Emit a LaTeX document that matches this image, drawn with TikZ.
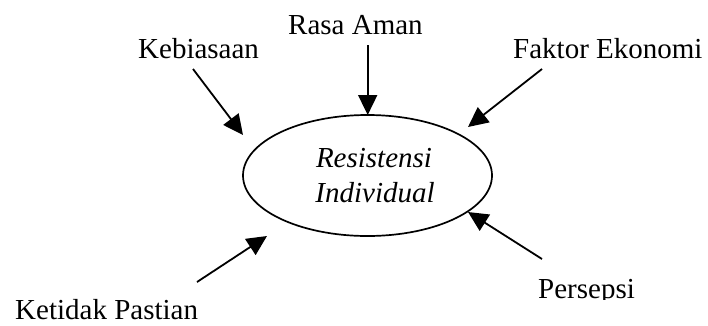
\documentclass[tikz,border=0pt]{standalone}
\usepackage{fontspec}
\setmainfont{Liberation Serif}
\usetikzlibrary{arrows.meta,shapes.geometric}
\begin{document}
\begin{tikzpicture}[x=1pt,y=-1pt,
  lbl/.style={inner sep=0pt,anchor=base west,font=\fontsize{29}{34}\selectfont},
  arr/.style={line width=1.8pt,-{Triangle[length=20pt,width=19pt]}}]
\useasboundingbox (0,0) rectangle (708,325);
\node[draw,line width=1.7pt,ellipse,minimum width=249pt,minimum height=121pt,inner sep=0pt] (e) at (367.5,175.5) {};
\node[inner sep=0pt,anchor=base,font=\fontsize{29}{34}\selectfont\itshape] (t1) at (374,167) {Resistensi};
\node[inner sep=0pt,anchor=base,font=\fontsize{29}{34}\selectfont\itshape] (t2) at (375,202) {Individual};
\node[lbl] (ra) at (288,34) {Rasa Aman};
\node[lbl] (kb) at (138,58) {Kebiasaan};
\node[lbl] (fe) at (513,58) {Faktor Ekonomi};
\node[lbl] (kp) at (15,319) {Ketidak Pastian};
\begin{scope}
\clip (500,0) rectangle (708,299);
\node[lbl] (ps) at (538,298) {Persepsi};
\end{scope}
\coordinate (ra1) at (367.7,45);  \coordinate (ra2) at (367.7,115);
\coordinate (kb1) at (193,69);    \coordinate (kb2) at (243,135);
\coordinate (fe1) at (542,69);    \coordinate (fe2) at (468,127);
\coordinate (kp1) at (197,282);   \coordinate (kp2) at (267,236);
\coordinate (ps1) at (542,259);   \coordinate (ps2) at (468,212);
\draw[arr] (ra1) -- (ra2);
\draw[arr] (kb1) -- (kb2);
\draw[arr] (fe1) -- (fe2);
\draw[arr] (kp1) -- (kp2);
\draw[arr] (ps1) -- (ps2);
\end{tikzpicture}
\end{document}
